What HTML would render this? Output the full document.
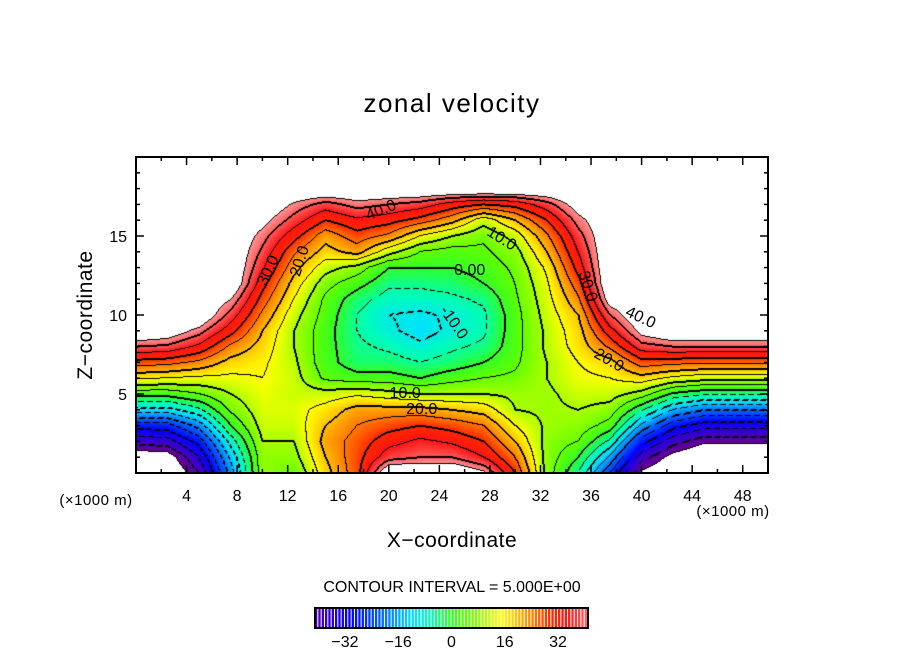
<!DOCTYPE html>
<html><head><meta charset="utf-8"><style>
html,body{margin:0;padding:0;background:#fff;width:904px;height:654px;overflow:hidden;font-family:"Liberation Sans",sans-serif}
#wrap{position:relative;width:904px;height:654px}
canvas{position:absolute;left:136px;top:157px}
svg{position:absolute;left:0;top:0}
</style></head><body><div id="wrap">
<canvas id="cv" width="632" height="316"></canvas>
<svg id="sv" width="904" height="654"></svg>
</div>
<script>
const xCoords=[0,2.5,5,7.5,10,12.5,15,17.5,20,22.5,25,27.5,30,32.5,35,37.5,40,42.5,45,47.5,50];
const zCoords=[0,1,2,3,4,5,6,7,8,9,10,11,12,13,14,15,16,17,18,19,20];
const col00=[-50,-48,-38,-28,-12,2,16,28,40,50];
const col02=[-50,-47,-37,-27,-12,2,15,27,39,48];
const col05=[-40,-35,-28,-18,-6,5,14,24,34,42,50];
const col07=[-18,-14,-8,0,6,10,14,18,24,32,38,44,50];
const col10=[8,8,10,12,13,14,15,16,18,20,24,28,32,36,39,42,46,50];
const col12=[5,8,10,12,13,12,12,11,10,10,12,15,18,22,26,32,38,43,50];
const col15=[18,20,22,20,17,12,4,2,2,2,3,4,7,12,18,22,30,38,50];
const col17=[28,28,27,25,22,14,2,-3,-4,-5,-5,-3,2,8,22,28,34,42,50];
const col20=[50,38,33,28,22,12,2,-3,-6,-9,-10,-7,-4,0,12,24,32,40,50];
const col22=[50,40,36,30,22,10,0,-5,-9,-12,-11,-7,-4,0,5,15,28,38,50];
const col25=[50,40,34,28,20,10,3,-3,-6,-9,-9,-6,-3,0,3,10,22,33,50];
const col27=[45,35,30,25,18,10,5,0,-4,-6,-6,-4,0,2,4,6,12,30,50];
const col30=[30,25,20,15,10,9,6,4,3,3,3,4,5,6,8,12,20,32,50];
const col32=[8,8,8,9,9,9,10,10,11,11,12,13,14,16,20,24,30,38,50];
const col35=[-5,0,5,8,10,12,14,15,17,18,20,24,28,32,35,38,42,47,50];
const col37=[-25,-16,-6,3,8,12,15,18,26,33,40,47,50];
const col40=[-45,-38,-28,-16,-4,8,18,28,38,46,50];
const col42=[-50,-46,-38,-28,-15,-1,14,27,40,50];
const col45=[-50,-50,-43,-33,-20,-4,12,26,40,50];
const col47=[-50,-50,-43,-33,-20,-4,12,26,40,50];
const col50=[-50,-50,-43,-33,-20,-4,12,26,40,50];
const columns=[col00,col02,col05,col07,col10,col12,col15,col17,col20,col22,col25,col27,col30,col32,col35,col37,col40,col42,col45,col47,col50];
const xTicks=[4,8,12,16,20,24,28,32,36,40,44,48];
const zTicks=[5,10,15];
const cbTicks=[-32,-16,0,16,32];
const contourLabels=[["40.0",19.4,16.6,-22],["30.0",10.5,12.8,-65],["20.0",13.0,13.4,-72],["10.0",28.9,14.8,32],["0.00",26.4,12.8,0],["-10.0",25.1,9.5,55],["30.0",35.7,11.8,72],["40.0",39.9,9.8,25],["20.0",37.4,7.1,30],["10.0",21.3,5.0,0],["20.0",22.6,4.0,0]];

const PX=136,PY=157,PW=632,PH=316,XMAX=50,ZMAX=20;
const sx=x=>PX+x/XMAX*PW, sz=z=>PY+PH-z/ZMAX*PH;
function cval(i,k){const c=columns[i];return k<c.length?c[k]:50;}
function field(x,z){
  let i=0;while(i<xCoords.length-2&&x>xCoords[i+1])i++;
  let k=0;while(k<zCoords.length-2&&z>zCoords[k+1])k++;
  const tx=(x-xCoords[i])/(xCoords[i+1]-xCoords[i]), tz=(z-zCoords[k])/(zCoords[k+1]-zCoords[k]);
  const a=cval(i,k),b=cval(i+1,k),c=cval(i,k+1),d=cval(i+1,k+1);
  return (a*(1-tx)+b*tx)*(1-tz)+(c*(1-tx)+d*tx)*tz;
}
const stops=[[-44,[110,0,140]],[-38,[60,0,200]],[-30,[0,0,255]],[-20,[0,110,255]],[-12,[0,225,255]],[-6,[0,255,180]],[0,[50,255,40]],[5,[100,255,0]],[10,[170,255,0]],[15,[255,255,0]],[20,[255,190,0]],[25,[255,120,0]],[30,[255,40,0]],[35,[255,20,20]],[40,[255,90,90]],[44,[255,150,150]]];
function cmap(v){
  if(v>44||v<-44)return null;
  for(let j=0;j<stops.length-1;j++){
    if(v<=stops[j+1][0]){const t=(v-stops[j][0])/(stops[j+1][0]-stops[j][0]);const A=stops[j][1],B=stops[j+1][1];return [A[0]+(B[0]-A[0])*t,A[1]+(B[1]-A[1])*t,A[2]+(B[2]-A[2])*t];}
  }
  return stops[stops.length-1][1];
}
const cv=document.getElementById('cv'),ctx=cv.getContext('2d');
const img=ctx.createImageData(PW,PH);
const V=new Float32Array(PW*PH);
for(let py=0;py<PH;py++)for(let px=0;px<PW;px++){
  V[py*PW+px]=field((px+0.5)/PW*XMAX,ZMAX-(py+0.5)/PH*ZMAX);
}
for(let py=0;py<PH;py++)for(let px=0;px<PW;px++){
  const v=V[py*PW+px];const c=cmap(v);const o=(py*PW+px)*4;
  let col=c?c:[255,255,255];
  if(c){
    const l=Math.floor(v/5);
    const nbrs=[[1,0],[0,1],[-1,0],[0,-1]];
    for(const [dx,dy] of nbrs){
      const qx=px+dx,qy=py+dy;if(qx<0||qy<0||qx>=PW||qy>=PH)continue;
      const w=V[qy*PW+qx];if(w>44||w<-44){col=[0,0,0];break;}
      const m=Math.floor(w/5);
      if(m!==l){const lev=Math.max(l,m)*5;const thick=lev%10===0;
        if(dx<0||dy<0){if(!thick)continue;}
        if(lev<0&&((px+py)%9)<3)continue;
        col=[0,0,0];break;}
    }
  }
  img.data[o]=col[0];img.data[o+1]=col[1];img.data[o+2]=col[2];img.data[o+3]=255;
}
ctx.putImageData(img,0,0);

const NS='http://www.w3.org/2000/svg',sv=document.getElementById('sv');
function mk(t,attrs,txt){const e=document.createElementNS(NS,t);for(const k in attrs)e.setAttribute(k,attrs[k]);if(txt!==undefined)e.textContent=txt;sv.appendChild(e);return e;}
let e;
e=mk('rect',{x:PX,y:PY,width:PW,height:PH,fill:'none',stroke:'#000','stroke-width':2});


for(let x=2;x<XMAX;x+=2){const L=(x%4===0)?8:4;
  e=mk('line',{x1:sx(x),x2:sx(x),y1:PY+PH,y2:PY+PH-L,stroke:'#000','stroke-width':1.5});
  
  
  e=mk('line',{x1:sx(x),x2:sx(x),y1:PY,y2:PY+L,stroke:'#000','stroke-width':1.5});
  
  }
for(let z=1;z<ZMAX;z++){const L=(z%5===0)?8:4;
  e=mk('line',{x1:PX,x2:PX+L,y1:sz(z),y2:sz(z),stroke:'#000','stroke-width':1.5});
  
  
  e=mk('line',{x1:PX+PW,x2:PX+PW-L,y1:sz(z),y2:sz(z),stroke:'#000','stroke-width':1.5});
  
  }
xTicks.forEach(t=>{e=mk('text',{x:sx(t),y:501,'font-size':16,'text-anchor':'middle'},String(t));
  
  });
zTicks.forEach(t=>{e=mk('text',{x:PX-9,y:sz(t)+6,'font-size':16,'text-anchor':'end'},String(t));
  
  });
contourLabels.forEach(c=>{const x=sx(c[1]),y=sz(c[2]);
  e=mk('text',{x:x,y:y,'font-size':16,'text-anchor':'middle','dominant-baseline':'middle',transform:`rotate(${c[3]} ${x} ${y})`},c[0]);
  
  });
e=mk('text',{x:452,y:112,'font-size':26,'text-anchor':'middle','letter-spacing':'1.5'},'zonal velocity');


e=mk('text',{x:452,y:547,'font-size':21,'text-anchor':'middle','letter-spacing':'0.5'},'X\u2212coordinate');


e=mk('text',{x:92,y:315,'font-size':21,'text-anchor':'middle','letter-spacing':'0.5',transform:'rotate(-90 92 315)'},'Z\u2212coordinate');


e=mk('text',{x:96,y:505,'font-size':15,'text-anchor':'middle','letter-spacing':'0.5'},'(\u00d71000 m)');


e=mk('text',{x:733,y:516,'font-size':15,'text-anchor':'middle','letter-spacing':'0.5'},'(\u00d71000 m)');


e=mk('text',{x:452,y:592,'font-size':16,'text-anchor':'middle'},'CONTOUR INTERVAL = 5.000E+00');


const CB0=315,CB1=588,CBV0=-41,CBV1=41;const cbx=v=>CB0+(v-CBV0)/(CBV1-CBV0)*(CB1-CB0);
for(let v=CBV0;v<CBV1;v++){const c=cmap(v+0.5)||[255,150,150];
  e=mk('rect',{x:cbx(v),y:608,width:(CB1-CB0)/(CBV1-CBV0)-1,height:20,fill:`rgb(${c.map(Math.round).join(',')})`});
  
  }
e=mk('rect',{x:CB0,y:608,width:CB1-CB0,height:20,fill:'none',stroke:'#000','stroke-width':2});


cbTicks.forEach(t=>{e=mk('text',{x:cbx(t),y:647,'font-size':16,'text-anchor':'middle'},(t<0?'\u2212'+(-t):String(t)));
  
  });
</script></body></html>
